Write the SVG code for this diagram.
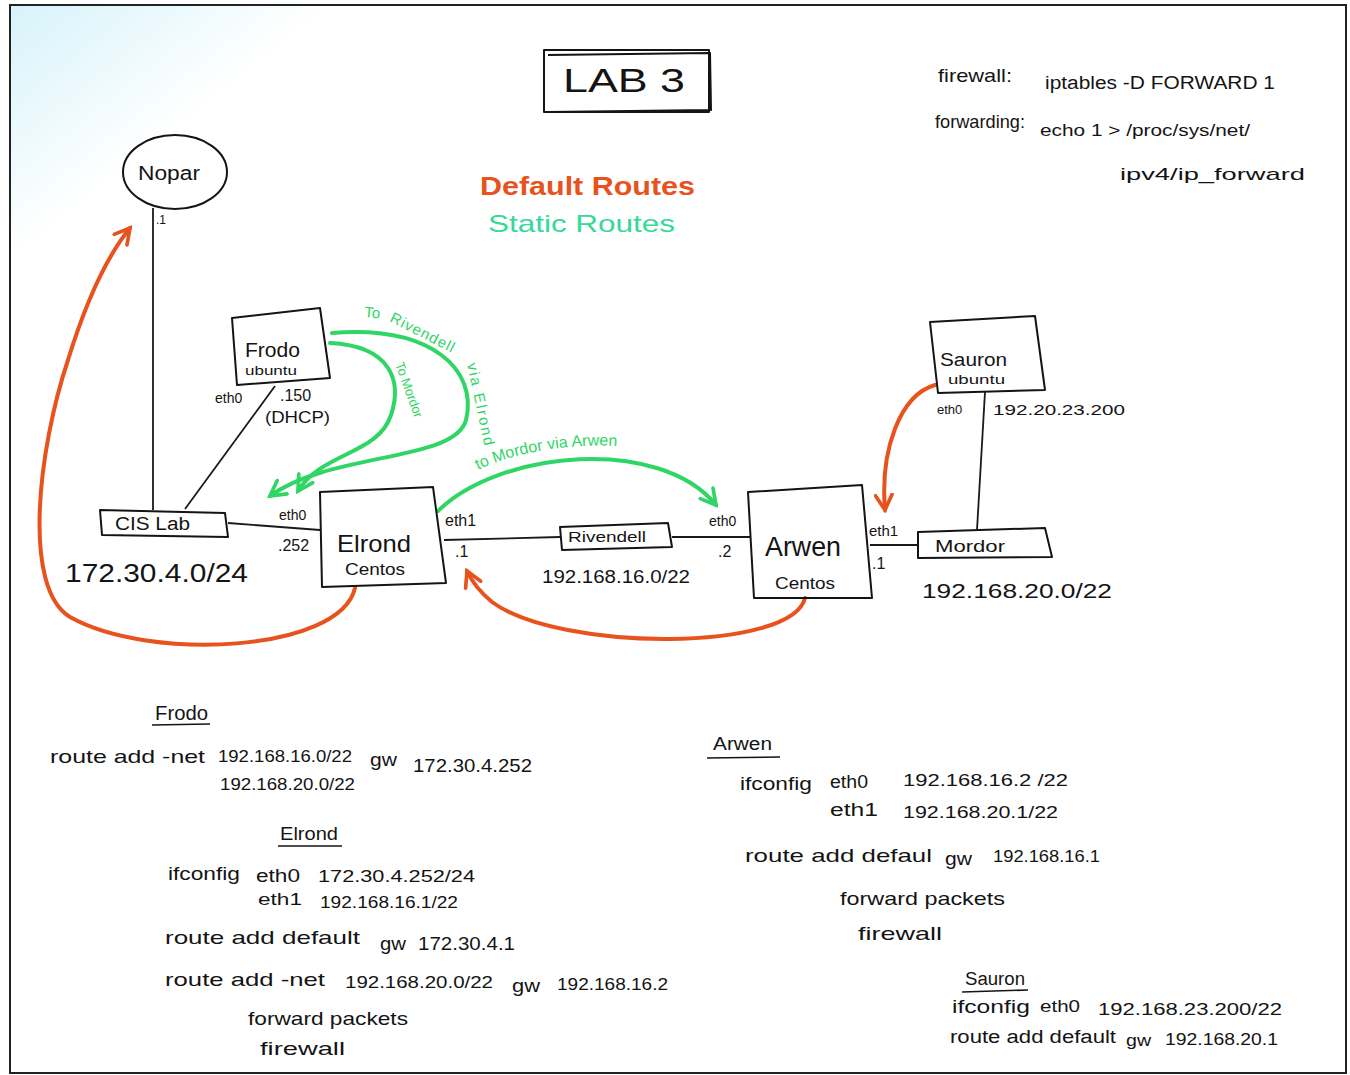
<svg xmlns="http://www.w3.org/2000/svg" width="1350" height="1075" viewBox="0 0 1350 1075">
<defs>
<style>
.t{font-family:"Liberation Sans",Arial,sans-serif;fill:#141414;}
.box{fill:none;stroke:#141414;stroke-width:2;stroke-linejoin:round;}
.ln{fill:none;stroke:#1a1a1a;stroke-width:1.8;}
.gr{fill:none;stroke:#2fd565;stroke-width:4;stroke-linecap:round;}
.or{fill:none;stroke:#e8521c;stroke-width:4;stroke-linecap:round;}
.gt{font-family:"Liberation Sans",Arial,sans-serif;fill:#2fd565;}
.ul{stroke:#141414;stroke-width:1.6;}
</style>
<marker id="ag" viewBox="0 0 12 12" refX="10" refY="6" markerWidth="5" markerHeight="5" orient="auto" markerUnits="strokeWidth">
<path d="M1,1 L10,6 L1,11" fill="none" stroke="#2fd565" stroke-width="2.2" stroke-linecap="round"/>
</marker>
<marker id="ao" viewBox="0 0 12 12" refX="10" refY="6" markerWidth="5" markerHeight="5" orient="auto" markerUnits="strokeWidth">
<path d="M1,1 L10,6 L1,11" fill="none" stroke="#e8521c" stroke-width="2.2" stroke-linecap="round"/>
</marker>
<linearGradient id="tint" x1="0" y1="0" x2="1" y2="1">
<stop offset="0" stop-color="#d6f3fa"/>
<stop offset="0.12" stop-color="#ffffff"/>
</linearGradient>
<path id="pArc" d="M478,470 C 540,440 640,438 692,462"/>
</defs>
<rect x="0" y="0" width="1350" height="1075" fill="#ffffff"/>
<rect x="10" y="5" width="1336" height="1068" fill="url(#tint)" stroke="#222" stroke-width="2"/>

<g id="title">
<rect class="box" x="544" y="50" width="165" height="62"/>
<path class="box" d="M548,55 L710,53 L711,110 L549,112"/>
<text class="t" x="563" y="92" font-size="34" textLength="122" lengthAdjust="spacingAndGlyphs">LAB 3</text>
</g>

<g id="notes-top">
<text class="t" x="938" y="82" font-size="19" textLength="74" lengthAdjust="spacingAndGlyphs">firewall:</text>
<text class="t" x="1045" y="89" font-size="18" textLength="230" lengthAdjust="spacingAndGlyphs">iptables -D FORWARD 1</text>
<text class="t" x="935" y="128" font-size="19" textLength="90" lengthAdjust="spacingAndGlyphs">forwarding:</text>
<text class="t" x="1040" y="136" font-size="17" textLength="210" lengthAdjust="spacingAndGlyphs">echo 1 &gt; /proc/sys/net/</text>
<text class="t" x="1120" y="180" font-size="17" textLength="185" lengthAdjust="spacingAndGlyphs">ipv4/ip_forward</text>
</g>

<g id="legend">
<text x="480" y="195" font-size="26" font-family="Liberation Sans,Arial,sans-serif" fill="#e8521c" font-weight="bold" textLength="215" lengthAdjust="spacingAndGlyphs">Default Routes</text>
<text x="488" y="232" font-size="24" font-family="Liberation Sans,Arial,sans-serif" fill="#35d99a" textLength="187" lengthAdjust="spacingAndGlyphs">Static Routes</text>
</g>

<g id="connectors">
<path class="ln" d="M153,208 L153,510"/>
<path class="ln" d="M275,386 L185,509"/>
<path class="ln" d="M228,523 L320,530"/>
<path class="ln" d="M444,540 L560,537"/>
<path class="ln" d="M672,537 L751,537"/>
<path class="ln" d="M870,545 L919,545"/>
<path class="ln" d="M985,392 L977,530"/>
<path class="gr" d="M332,333 C 432,325 478,370 466,420 C 455,462 330,452 270,496" marker-end="url(#ag)"/>
<path class="gr" d="M330,343 C 392,346 402,382 391,415 C 378,455 322,452 298,491" marker-end="url(#ag)"/>
<path class="gr" d="M438,511 C 500,450 660,436 716,505" marker-end="url(#ag)"/>
<path class="or" d="M355,588 C 340,652 150,662 70,617 C 22,588 38,450 68,360 C 88,295 108,255 130,228" marker-end="url(#ao)"/>
<path class="or" d="M805,598 C 792,652 560,652 492,602 C 480,592 472,582 467,571" marker-end="url(#ao)"/>
<path class="or" d="M935,385 C 900,395 880,450 885,510" marker-end="url(#ao)"/>
<text class="gt" font-size="15" transform="translate(364,317) rotate(5)">To</text>
<text class="gt" font-size="15" transform="translate(389,321) rotate(27)" textLength="70" lengthAdjust="spacing">Rivendell</text>
<text class="gt" font-size="15" transform="translate(467,364) rotate(78)" textLength="84" lengthAdjust="spacing">via Elrond</text>
<text class="gt" font-size="13" transform="translate(395,364) rotate(70)" textLength="58" lengthAdjust="spacing">To Mordor</text>
<text class="gt" font-size="16"><textPath href="#pArc">to Mordor via Arwen</textPath></text>
</g>

<g id="nopar">
<ellipse class="box" cx="175" cy="172" rx="52" ry="37"/>
<text class="t" x="138" y="180" font-size="20" textLength="62" lengthAdjust="spacingAndGlyphs">Nopar</text>
<text class="t" x="156" y="224" font-size="12">.1</text>
</g>

<g id="frodo">
<path class="box" d="M232,318 L320,308 L330,378 L237,385 Z"/>
<text class="t" x="245" y="357" font-size="20" textLength="55" lengthAdjust="spacingAndGlyphs">Frodo</text>
<text class="t" x="245" y="375" font-size="12" textLength="52" lengthAdjust="spacingAndGlyphs">ubuntu</text>
<text class="t" x="215" y="403" font-size="14">eth0</text>
<text class="t" x="280" y="401" font-size="16">.150</text>
<text class="t" x="265" y="423" font-size="16" textLength="65" lengthAdjust="spacingAndGlyphs">(DHCP)</text>
</g>

<g id="cislab">
<path class="box" d="M100,510 L225,513 L228,537 L102,535 Z"/>
<text class="t" x="115" y="530" font-size="18" textLength="75" lengthAdjust="spacingAndGlyphs">CIS Lab</text>
<text class="t" x="65" y="582" font-size="26" textLength="183" lengthAdjust="spacingAndGlyphs">172.30.4.0/24</text>
</g>

<g id="elrond">
<path class="box" d="M320,492 L433,487 L446,583 L322,587 Z"/>
<text class="t" x="337" y="552" font-size="24" textLength="74" lengthAdjust="spacingAndGlyphs">Elrond</text>
<text class="t" x="345" y="575" font-size="16" textLength="60" lengthAdjust="spacingAndGlyphs">Centos</text>
<text class="t" x="279" y="520" font-size="14">eth0</text>
<text class="t" x="278" y="551" font-size="16">.252</text>
<text class="t" x="445" y="526" font-size="16">eth1</text>
<text class="t" x="455" y="557" font-size="16">.1</text>
</g>

<g id="rivendell">
<path class="box" d="M560,527 L668,523 L672,547 L562,550 Z"/>
<text class="t" x="568" y="542" font-size="15" textLength="78" lengthAdjust="spacingAndGlyphs">Rivendell</text>
<text class="t" x="542" y="583" font-size="18" textLength="148" lengthAdjust="spacingAndGlyphs">192.168.16.0/22</text>
</g>

<g id="arwen">
<path class="box" d="M748,492 L862,485 L872,598 L754,598 Z"/>
<text class="t" x="765" y="556" font-size="28" textLength="76" lengthAdjust="spacingAndGlyphs">Arwen</text>
<text class="t" x="775" y="589" font-size="16" textLength="60" lengthAdjust="spacingAndGlyphs">Centos</text>
<text class="t" x="709" y="526" font-size="14">eth0</text>
<text class="t" x="718" y="557" font-size="16">.2</text>
<text class="t" x="869" y="536" font-size="15">eth1</text>
<text class="t" x="872" y="569" font-size="16">.1</text>
</g>

<g id="mordor">
<path class="box" d="M918,532 L1045,528 L1052,557 L918,558 Z"/>
<text class="t" x="935" y="552" font-size="17" textLength="70" lengthAdjust="spacingAndGlyphs">Mordor</text>
<text class="t" x="922" y="598" font-size="20" textLength="190" lengthAdjust="spacingAndGlyphs">192.168.20.0/22</text>
</g>

<g id="sauron">
<path class="box" d="M930,322 L1035,316 L1045,390 L938,393 Z"/>
<text class="t" x="940" y="366" font-size="18" textLength="67" lengthAdjust="spacingAndGlyphs">Sauron</text>
<text class="t" x="948" y="384" font-size="12" textLength="57" lengthAdjust="spacingAndGlyphs">ubuntu</text>
<text class="t" x="937" y="414" font-size="13">eth0</text>
<text class="t" x="993" y="415" font-size="14" textLength="132" lengthAdjust="spacingAndGlyphs">192.20.23.200</text>
</g>

<g id="notes-frodo">
<text class="t" x="155" y="720" font-size="20" textLength="53" lengthAdjust="spacingAndGlyphs">Frodo</text>
<line class="ul" x1="152" y1="725" x2="210" y2="724"/>
<text class="t" x="50" y="763" font-size="19" textLength="155" lengthAdjust="spacingAndGlyphs">route add -net</text>
<text class="t" x="218" y="762" font-size="16" textLength="134" lengthAdjust="spacingAndGlyphs">192.168.16.0/22</text>
<text class="t" x="370" y="766" font-size="19" textLength="27" lengthAdjust="spacingAndGlyphs">gw</text>
<text class="t" x="413" y="772" font-size="19" textLength="119" lengthAdjust="spacingAndGlyphs">172.30.4.252</text>
<text class="t" x="220" y="790" font-size="16" textLength="135" lengthAdjust="spacingAndGlyphs">192.168.20.0/22</text>
</g>

<g id="notes-elrond">
<text class="t" x="280" y="840" font-size="18" textLength="58" lengthAdjust="spacingAndGlyphs">Elrond</text>
<line class="ul" x1="278" y1="846" x2="342" y2="846"/>
<text class="t" x="168" y="880" font-size="19" textLength="72" lengthAdjust="spacingAndGlyphs">ifconfig</text>
<text class="t" x="256" y="882" font-size="18" textLength="44" lengthAdjust="spacingAndGlyphs">eth0</text>
<text class="t" x="318" y="882" font-size="17" textLength="157" lengthAdjust="spacingAndGlyphs">172.30.4.252/24</text>
<text class="t" x="258" y="905" font-size="17" textLength="44" lengthAdjust="spacingAndGlyphs">eth1</text>
<text class="t" x="320" y="908" font-size="17" textLength="138" lengthAdjust="spacingAndGlyphs">192.168.16.1/22</text>
<text class="t" x="165" y="944" font-size="19" textLength="195" lengthAdjust="spacingAndGlyphs">route add default</text>
<text class="t" x="380" y="950" font-size="18" textLength="26" lengthAdjust="spacingAndGlyphs">gw</text>
<text class="t" x="418" y="950" font-size="18" textLength="97" lengthAdjust="spacingAndGlyphs">172.30.4.1</text>
<text class="t" x="165" y="986" font-size="19" textLength="160" lengthAdjust="spacingAndGlyphs">route add -net</text>
<text class="t" x="345" y="988" font-size="17" textLength="148" lengthAdjust="spacingAndGlyphs">192.168.20.0/22</text>
<text class="t" x="512" y="992" font-size="18" textLength="28" lengthAdjust="spacingAndGlyphs">gw</text>
<text class="t" x="557" y="990" font-size="17" textLength="111" lengthAdjust="spacingAndGlyphs">192.168.16.2</text>
<text class="t" x="248" y="1025" font-size="19" textLength="160" lengthAdjust="spacingAndGlyphs">forward packets</text>
<text class="t" x="260" y="1055" font-size="19" textLength="85" lengthAdjust="spacingAndGlyphs">firewall</text>
</g>

<g id="notes-arwen">
<text class="t" x="713" y="750" font-size="18" textLength="59" lengthAdjust="spacingAndGlyphs">Arwen</text>
<line class="ul" x1="707" y1="758" x2="780" y2="757"/>
<text class="t" x="740" y="790" font-size="19" textLength="72" lengthAdjust="spacingAndGlyphs">ifconfig</text>
<text class="t" x="830" y="788" font-size="18" textLength="38" lengthAdjust="spacingAndGlyphs">eth0</text>
<text class="t" x="903" y="786" font-size="17" textLength="165" lengthAdjust="spacingAndGlyphs">192.168.16.2 /22</text>
<text class="t" x="830" y="816" font-size="18" textLength="48" lengthAdjust="spacingAndGlyphs">eth1</text>
<text class="t" x="903" y="818" font-size="17" textLength="155" lengthAdjust="spacingAndGlyphs">192.168.20.1/22</text>
<text class="t" x="745" y="862" font-size="19" textLength="187" lengthAdjust="spacingAndGlyphs">route add defaul</text>
<text class="t" x="945" y="865" font-size="18" textLength="27" lengthAdjust="spacingAndGlyphs">gw</text>
<text class="t" x="993" y="862" font-size="17" textLength="107" lengthAdjust="spacingAndGlyphs">192.168.16.1</text>
<text class="t" x="840" y="905" font-size="19" textLength="165" lengthAdjust="spacingAndGlyphs">forward packets</text>
<text class="t" x="858" y="940" font-size="19" textLength="84" lengthAdjust="spacingAndGlyphs">firewall</text>
</g>

<g id="notes-sauron">
<text class="t" x="965" y="985" font-size="18" textLength="60" lengthAdjust="spacingAndGlyphs">Sauron</text>
<line class="ul" x1="962" y1="992" x2="1028" y2="990"/>
<text class="t" x="952" y="1013" font-size="18" textLength="78" lengthAdjust="spacingAndGlyphs">ifconfig</text>
<text class="t" x="1040" y="1012" font-size="17" textLength="40" lengthAdjust="spacingAndGlyphs">eth0</text>
<text class="t" x="1098" y="1015" font-size="17" textLength="184" lengthAdjust="spacingAndGlyphs">192.168.23.200/22</text>
<text class="t" x="950" y="1043" font-size="18" textLength="166" lengthAdjust="spacingAndGlyphs">route add default</text>
<text class="t" x="1126" y="1046" font-size="17" textLength="25" lengthAdjust="spacingAndGlyphs">gw</text>
<text class="t" x="1165" y="1045" font-size="17" textLength="113" lengthAdjust="spacingAndGlyphs">192.168.20.1</text>
</g>
</svg>
